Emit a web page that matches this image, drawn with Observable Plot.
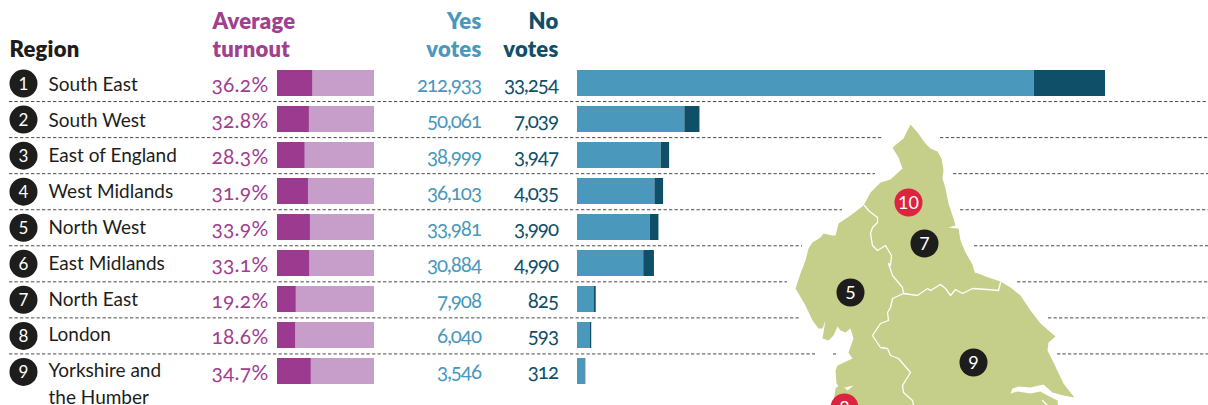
<!DOCTYPE html>
<html>
<head>
<meta charset="utf-8">
<script src="https://cdn.jsdelivr.net/npm/d3@7"></script>
<script src="https://cdn.jsdelivr.net/npm/@observablehq/plot@0.6"></script>
<style>
  html, body { margin: 0; padding: 0; background: #fff; overflow: hidden; }
  #chart { position: relative; width: 1208px; height: 405px; overflow: hidden; }
  #chart svg { position: absolute; left: 0; top: 0; background: transparent; overflow: hidden; }
  .tight text { letter-spacing: -1px; }
  .wide text { letter-spacing: 0.25px; }
</style>
</head>
<body>
<div id="chart"></div>
<script>
// Regional results
const regions = ["South East", "South West", "East of England", "West Midlands", "North West",
  "East Midlands", "North East", "London", "Yorkshire and\nthe Humber"];
const turnout = [36.2, 32.8, 28.3, 31.9, 33.9, 33.1, 19.2, 18.6, 34.7];
const yesVotes = [212933, 50061, 38999, 36103, 33981, 30884, 7908, 6040, 3546];
const noVotes = [33254, 7039, 3947, 4035, 3990, 4990, 825, 593, 312];

// Map of northern England, in a grid of 300 by 295 units
const landOutline = [[130,14],[137,22],[145,33],[150,38],[157,41],[161,48],[163,60],[162,68],[165,78],[168,93],
  [173,108],[175,115],[168,117],[176,118],[178,118],[180,130],[185,142],[192,154],[193,158],[195,164],[193,167],[195,162],
  [208,167],[220,171],[230,177],[240,185],[250,200],[260,213],[275,226],[268,232],[267,240],[272,250],[283,273],[294,287],
  [283,285],[272,282],[263,274],[250,277],[238,276],[232,278],[230,283],[237,281],[250,283],[260,281],[267,285],[277,290],[278,300],
  [52,300],[55,278],[60,273],[67,280],[73,275],[60,278],[56,273],[55,260],[57,255],[72,248],[68,242],[73,228],[70,218],[65,222],[60,220],[57,216],[53,225],
  [48,230],[42,228],[45,210],[42,218],[38,218],[32,210],[25,195],[15,178],[20,163],[25,150],[28,138],[32,132],[40,127],[43,123],[52,125],[55,125],[58,113],
  [70,105],[83,95],[90,82],[100,72],[110,69],[122,58],[118,47],[112,37],[123,28]];
const boundaryWest = [[84,95],[88,100],[97,107],[97,112],[92,117],[90,123],[92,135],[97,140],[105,135],[111,145],[110,155],
  [108,153],[112,165],[122,177],[123,183]];
const boundaryNorthYorks = [[123,183],[137,185],[147,178],[150,180],[160,174],[165,178],[170,185],[175,179],[182,183],[192,178],
  [207,179],[218,180],[220,172]];
const boundaryWestYorks = [[123,183],[112,188],[110,197],[107,202],[108,210],[100,213],[92,225],[100,237],[107,238],[110,245],
  [118,248],[130,262],[122,275],[123,282],[132,290],[134,300]];
const boundaryHumberSouth = [[262,290],[267,295]];
const mapBadges = [["10", 128, 92, true], ["7", 144, 133, false], ["5", 70, 182, false], ["9", 193, 252, false], ["8", 64, 297, true]];

// Row separators as stretches of page width, broken around the map
const ruleStretches = [
  [1, 9, 1208], [2, 9, 883], [2, 940, 1208], [3, 9, 875], [3, 953, 1208], [4, 9, 842], [4, 960, 1208],
  [5, 9, 802], [5, 974, 1208], [6, 9, 787], [6, 1017, 1208], [7, 9, 800], [7, 1048, 1208],
  [8, 9, 815], [8, 833, 836], [8, 1057, 1208]
];

const ink = "#1d1d1b", purple = "#a0408f", purpleDark = "#9b3a8e", purpleLight = "#c79dca";
const teal = "#4a98bb", tealDark = "#0f4f68", land = "#c6cf89", red = "#dc2340";
const bodyFont = "Lato";
const W = 1208, H = 405, rowTop = 65, rowBottom = 389.5;
const frame = {width: W, height: H, margin: 0, style: {background: "transparent", fontFamily: bodyFont}};
const rows = regions.map((region, i) => ({region, rank: i + 1, turnout: turnout[i], yes: yesVotes[i], no: noVotes[i]}));
const band = {type: "band", domain: regions, range: [rowTop, rowBottom], paddingInner: 0.285, paddingOuter: 0.1425, axis: null};

// Text column layer: x runs in page units, y counts rows from the first region
const yRank = {type: "linear", domain: [0.5, 9.5], range: [rowTop, rowBottom], axis: null};
const startHeaders = [
  {t: "Region", x: 9, k: 0.04, fill: ink},
  {t: "Average", x: 212, k: -0.75, fill: purple},
  {t: "turnout", x: 212, k: 0.04, fill: purple}
];
const endHeaders = [
  {t: "Yes", x: 481, k: -0.75, fill: teal},
  {t: "votes", x: 481, k: 0.04, fill: teal},
  {t: "No", x: 558, k: -0.75, fill: tealDark},
  {t: "votes", x: 558, k: 0.04, fill: tealDark}
];
const headerStyle = {x: "x", y: "k", text: "t", fill: "fill", fontSize: 22, fontWeight: 800, dy: 1.5, className: "wide"};
const columnText = (values, x, fill, fontSize, className) => Plot.text(rows, {
  x: () => x, y: d => 1 + (d.rank - 1) * 0.996, text: values, fill, fontSize, textAnchor: "end",
  fontVariant: "oldstyle-nums", dy: 2, className
});
const textLayer = Plot.plot({
  ...frame,
  x: {type: "linear", domain: [0, W], range: [0, W], axis: null},
  y: yRank,
  marks: [
    Plot.ruleY(ruleStretches, {y: d => d[0] + 0.5, x1: d => d[1], x2: d => d[2], stroke: "#4a4a4a", strokeWidth: 1, strokeDasharray: "3.3,2.2"}),
    Plot.dot(rows, {x: () => 23, y: "rank", r: 14, fill: ink}),
    Plot.text(rows, {x: () => 23, y: "rank", text: "rank", fill: "white", fontSize: 17, fontVariant: "lining-nums", dy: 1}),
    Plot.text(rows, {x: () => 48, y: d => 1 + (d.rank - 1) * 0.992, text: "region", fill: ink, fontSize: 19, textAnchor: "start", lineAnchor: "top", lineHeight: 1.4, dy: -11.5}),
    columnText(d => d3.format(".1f")(d.turnout) + "%", 268, purple, 21, "wide"),
    columnText(d => d3.format(",")(d.yes), 480.5, teal, 20.5, "tight"),
    columnText(d => d3.format(",")(d.no), 557.5, tealDark, 20.5, "tight"),
    Plot.text(startHeaders, {...headerStyle, textAnchor: "start"}),
    Plot.text(endHeaders, {...headerStyle, textAnchor: "end"})
  ]
});

// Turnout bars on a 0-100% track
const turnoutLayer = Plot.plot({
  ...frame,
  x: {domain: [0, 100], range: [277, 374], axis: null},
  y: band,
  marks: [
    Plot.barX(rows, {y: "region", x1: () => 0, x2: () => 100, fill: purpleLight}),
    Plot.barX(rows, {y: "region", x1: () => 0, x2: "turnout", fill: purpleDark})
  ]
});

// Stacked vote bars
const voteRows = rows.flatMap(d => [{region: d.region, side: "Yes", votes: d.yes}, {region: d.region, side: "No", votes: d.no}]);
const voteLayer = Plot.plot({
  ...frame,
  x: {domain: [0, 246187], range: [577, 1105], axis: null},
  y: band,
  color: {domain: ["Yes", "No"], range: [teal, tealDark]},
  marks: [Plot.barX(voteRows, {y: "region", x: "votes", fill: "side", order: null})]
});

// Map panel, laid over the rows
const asXY = path => ({x: d => d[0], y: d => d[1]});
const boundary = path => Plot.line(path, {...asXY(path), stroke: "white", strokeWidth: 1.3, curve: "linear"});
const mapLayer = Plot.plot({
  width: 300, height: 295, margin: 0,
  style: {background: "transparent", fontFamily: bodyFont, left: "780px", top: "110px"},
  x: {domain: [0, 300], range: [0, 300], axis: null},
  y: {domain: [0, 295], range: [0, 295], axis: null},
  marks: [
    Plot.line(landOutline, {...asXY(landOutline), fill: land, stroke: "none"}),
    boundary(boundaryWest), boundary(boundaryNorthYorks), boundary(boundaryWestYorks), boundary(boundaryHumberSouth),
    Plot.dot(mapBadges, {x: d => d[1], y: d => d[2], r: 14, fill: d => d[3] ? red : ink}),
    Plot.text(mapBadges, {x: d => d[1], y: d => d[2], text: d => d[0], fill: "white", fontSize: 18, fontVariant: "lining-nums", dy: 0.5})
  ]
});

const chart = document.getElementById("chart");
[textLayer, turnoutLayer, voteLayer, mapLayer].forEach(layer => chart.appendChild(layer));
</script>
</body>
</html>
